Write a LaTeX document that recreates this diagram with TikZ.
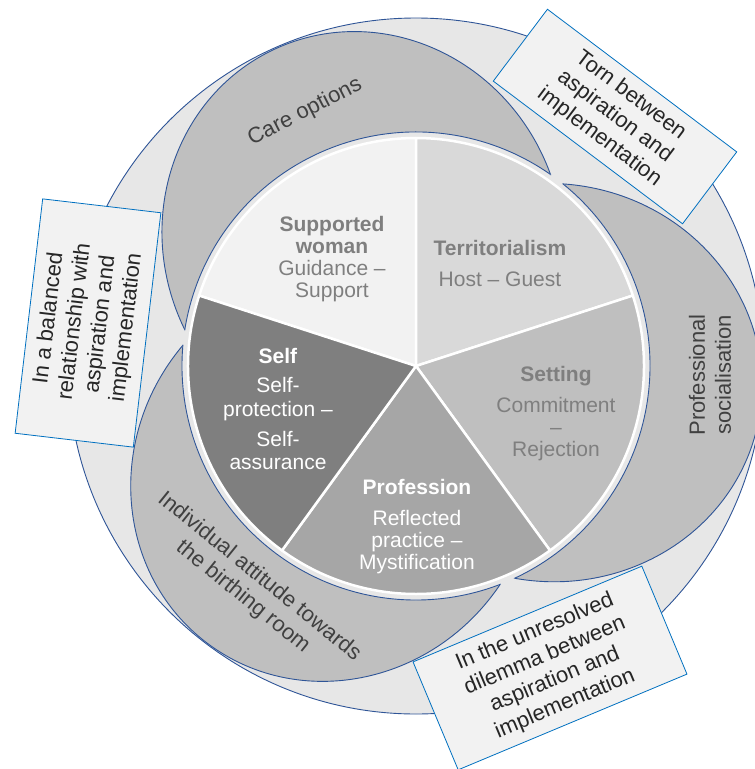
\documentclass[tikz,border=0pt]{standalone}
\usepackage{fontspec}
\setmainfont{Liberation Sans}

\definecolor{ringgray}{HTML}{E7E7E7}
\definecolor{lobegray}{HTML}{BFBFBF}
\definecolor{edgeblue}{HTML}{2F5597}
\definecolor{boxblue}{HTML}{0070C0}
\definecolor{boxfill}{HTML}{F2F2F2}
\definecolor{lobetext}{HTML}{404040}
\definecolor{pietext}{HTML}{7F7F7F}
\definecolor{womanfill}{HTML}{F2F2F2}
\definecolor{territoryfill}{HTML}{D9D9D9}
\definecolor{settingfill}{HTML}{BFBFBF}
\definecolor{professionfill}{HTML}{A6A6A6}
\definecolor{selffill}{HTML}{7F7F7F}

\tikzset{
  lobe/.style={fill=lobegray, draw=edgeblue, line width=0.9pt},
  slice/.style={draw=white, line width=2.5pt, line join=round},
  lobelabel/.style={text=lobetext, align=center, font=\fontsize{22}{26}\selectfont},
  pielabel/.style={align=center, font=\fontsize{21}{22}\selectfont},
  callout/.style={draw=boxblue, fill=boxfill, line width=0.8pt, align=center,
    text=black!85, inner sep=0pt, font=\fontsize{22}{26}\selectfont},
}

\begin{document}
\begin{tikzpicture}[x=1pt, y=1pt]
  \useasboundingbox (0,0) rectangle (755,-769);
  \clip (0,0) rectangle (755,-769);
  \coordinate (O) at (416,-366);

  % outer disc
  \draw[fill=ringgray, draw=edgeblue, line width=0.9pt] (O) circle[radius=348];

  % three lobes round the wheel (care options, socialisation, attitude)
  \foreach \ang in {113,-7,-127}
    \draw[lobe, shift={(O)}, rotate=\ang] (136,0) ellipse[x radius=211, y radius=199];

  % cut the lobes back to crescents
  \fill[ringgray] (O) circle[radius=234];
  \foreach \ang in {113,-7,-127} {
    \begin{scope}[shift={(O)}, rotate=\ang]
      \clip (136,0) ellipse[x radius=211, y radius=199];
      \draw[edgeblue, line width=0.9pt] (0,0) circle[radius=234];
    \end{scope}
  }

  % the five slices
  \begin{scope}[shift={(O)}]
    \filldraw[slice, fill=womanfill] (0,0) -- (90:228) arc[start angle=90, end angle=162, radius=228] -- cycle;
    \filldraw[slice, fill=territoryfill] (0,0) -- (18:228) arc[start angle=18, end angle=90, radius=228] -- cycle;
    \filldraw[slice, fill=settingfill] (0,0) -- (-54:228) arc[start angle=-54, end angle=18, radius=228] -- cycle;
    \filldraw[slice, fill=professionfill] (0,0) -- (-126:228) arc[start angle=-126, end angle=-54, radius=228] -- cycle;
    \filldraw[slice, fill=selffill] (0,0) -- (162:228) arc[start angle=162, end angle=234, radius=228] -- cycle;
  \end{scope}

  % slice texts
  \node[pielabel, text=pietext] (woman) at (332,-259)
    {\textbf{Supported}\\\textbf{woman}\\Guidance –\\Support};
  \node[pielabel, text=pietext] (territory) at (500,-263)
    {\textbf{Territorialism}\\[9pt]Host – Guest};
  \node[pielabel, text=pietext] (setting) at (556,-414)
    {\textbf{Setting}\\[9pt]Commitment\\–\\Rejection};
  \node[pielabel, text=white] (profession) at (417,-527)
    {\textbf{Profession}\\[9pt]Reflected\\practice –\\Mystification};
  \node[pielabel, text=white] (self) at (278,-409)
    {\textbf{Self}\\[7pt]Self-\\[2pt]protection –\\[8pt]Self-\\[1pt]assurance};

  % crescent texts
  \node[lobelabel, rotate=27] (care) at (305,-112) {Care options};
  \node[lobelabel, rotate=90] (social) at (710,-375) {Professional\\socialisation};
  \node[lobelabel, rotate=-39] (attitude) at (251,-587)
    {Individual attitude towards\\the birthing room};

  % callouts
  \node[callout, rotate=83.3, minimum width=236, minimum height=119] (balanced) at (88,-323)
    {In a balanced\\relationship with\\aspiration and\\implementation};
  \node[callout, rotate=-37, minimum width=237, minimum height=90] (torn) at (615,-116.5)
    {Torn between\\aspiration and\\implementation};
  \node[callout, rotate=22.7, minimum width=248, minimum height=117] (dilemma) at (550,-668)
    {In the unresolved\\dilemma between\\aspiration and\\implementation};
\end{tikzpicture}
\end{document}
